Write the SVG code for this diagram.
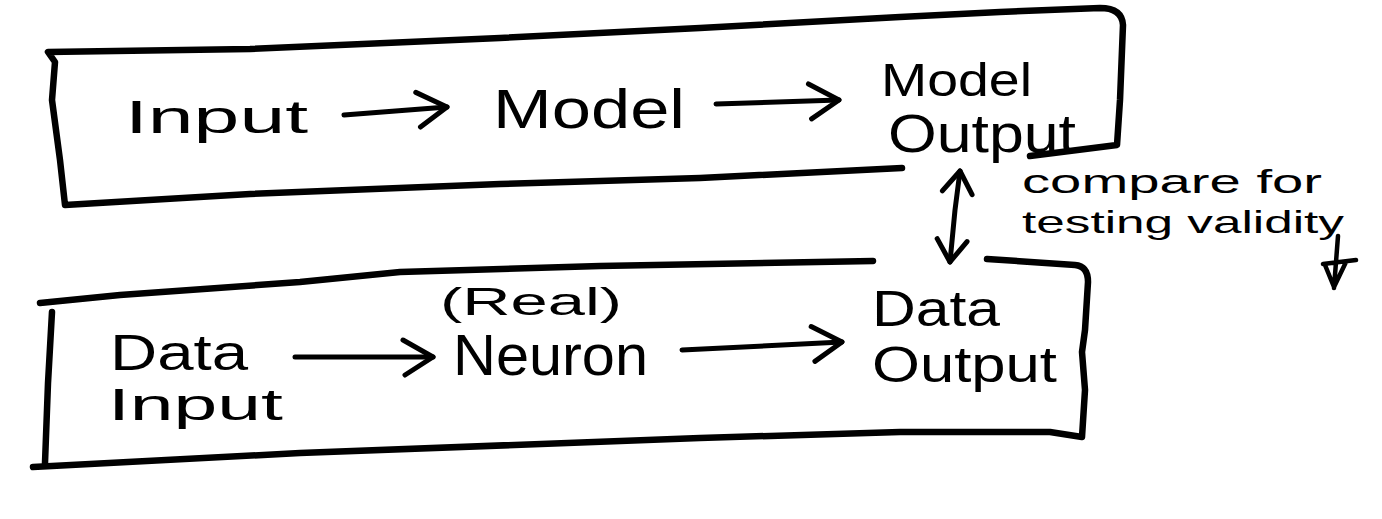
<svg xmlns="http://www.w3.org/2000/svg" width="1382" height="519" viewBox="0 0 1382 519">
<style>
  .box{fill:none;stroke:#000;stroke-width:6.5;stroke-linecap:round;stroke-linejoin:round}
  .conn{fill:none;stroke:#000;stroke-width:5;stroke-linecap:round;stroke-linejoin:round}
  .t{font-family:"Liberation Sans",Arial,sans-serif;fill:#000;font-weight:normal}
  .mark{fill:none;stroke:#000;stroke-width:4.5;stroke-linecap:round;stroke-linejoin:round}
</style>
<defs>
  <marker id="chev" markerUnits="userSpaceOnUse" markerWidth="60" markerHeight="60" refX="0" refY="0" viewBox="-40 -30 50 60" orient="auto-start-reverse" overflow="visible">
    <path d="M-30,-17 L0,0 L-28,18" fill="none" stroke="#000" stroke-width="5" stroke-linecap="round" stroke-linejoin="round"/>
  </marker>
  <marker id="chevs" markerUnits="userSpaceOnUse" markerWidth="50" markerHeight="50" refX="0" refY="0" viewBox="-30 -25 40 50" orient="auto-start-reverse" overflow="visible">
    <path d="M-22,-15 L0,0 L-22,15" fill="none" stroke="#000" stroke-width="5" stroke-linecap="round" stroke-linejoin="round"/>
  </marker>
</defs>
<rect width="1382" height="519" fill="#fff"/>

<g id="model-box">
  <path class="box" d="M902,168 L700,178 L500,184 L250,194 L65,205 L60,160 L52,100 L55,62 L48,52 L250,49 L500,38 L700,28 L900,17 L1000,12 L1100,8 Q1122,8 1123,25 L1120,100 L1117,145 L1030,156"/>
</g>
<g id="data-box">
  <path class="box" d="M873,261 L600,266 L400,272 L300,282 L120,295 L40,303"/>
  <path class="box" d="M52,312 L48,383 L45,463"/>
  <path class="box" d="M33,467 L300,453 L700,438 L900,432 L1050,432 L1082,437 L1085,390 L1082,352 L1085,330 L1088,282 Q1088,266 1075,265 L987,259"/>
</g>

<g id="node-input"><text class="t" x="125" y="133" font-size="46" textLength="183" lengthAdjust="spacingAndGlyphs">Input</text></g>
<g id="node-model"><text class="t" x="493" y="128" font-size="56" textLength="192" lengthAdjust="spacingAndGlyphs">Model</text></g>
<g id="node-model-output">
  <text class="t" x="881" y="96" font-size="46" textLength="151" lengthAdjust="spacingAndGlyphs">Model</text>
  <text class="t" x="888" y="152" font-size="54" textLength="188" lengthAdjust="spacingAndGlyphs">Output</text>
</g>
<g id="node-data-input">
  <text class="t" x="110" y="370" font-size="50" textLength="138" lengthAdjust="spacingAndGlyphs">Data</text>
  <text class="t" x="108" y="420" font-size="44" textLength="175" lengthAdjust="spacingAndGlyphs">Input</text>
</g>
<g id="node-neuron">
  <text class="t" x="440" y="315" font-size="38" textLength="182" lengthAdjust="spacingAndGlyphs">(Real)</text>
  <text class="t" x="453" y="375" font-size="58" textLength="195" lengthAdjust="spacingAndGlyphs">Neuron</text>
</g>
<g id="node-data-output">
  <text class="t" x="872" y="326" font-size="50" textLength="128" lengthAdjust="spacingAndGlyphs">Data</text>
  <text class="t" x="872" y="382" font-size="50" textLength="185" lengthAdjust="spacingAndGlyphs">Output</text>
</g>

<g id="connectors">
  <path class="conn" d="M344,115 L447,107" marker-end="url(#chev)"/>
  <path class="conn" d="M716,104 L839,100" marker-end="url(#chev)"/>
  <path class="conn" d="M295,357 L433,357" marker-end="url(#chev)"/>
  <path class="conn" d="M682,350 L842,342" marker-end="url(#chev)"/>
  <path class="conn" d="M960,171 L955,210 L950,262" marker-start="url(#chevs)" marker-end="url(#chevs)"/>
</g>

<g id="annotation">
  <text class="t" x="1022" y="193" font-size="34" textLength="300" lengthAdjust="spacingAndGlyphs">compare for</text>
  <text class="t" x="1022" y="233" font-size="32" textLength="322" lengthAdjust="spacingAndGlyphs">testing validity</text>
  <path class="mark" d="M1338,236 L1334,288 M1323,264 L1356,260 M1325,265 L1334,287 L1346,262"/>
</g>
</svg>
